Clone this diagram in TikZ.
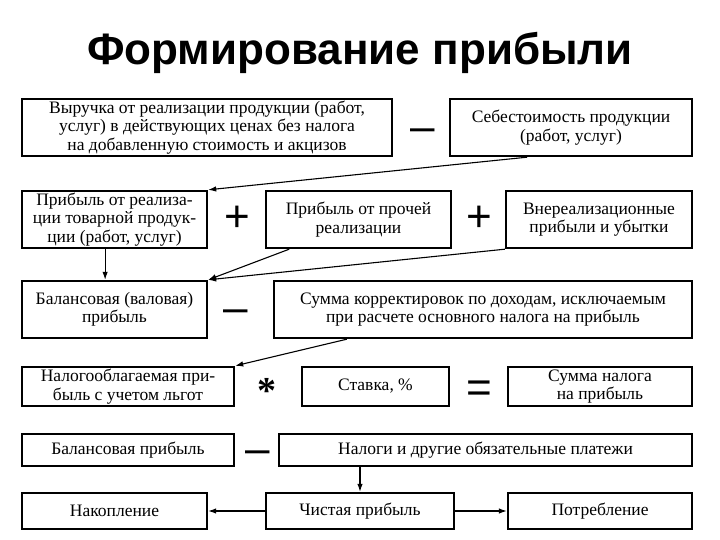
\documentclass[tikz,border=0pt]{standalone}
\usepackage{fontspec}
\usepackage{tikz}
\usetikzlibrary{arrows.meta,calc}
\setmainfont{Liberation Serif}
\newfontfamily\titlefont{Liberation Sans}
\newfontfamily\opfont{Liberation Sans}
\newfontfamily\starfont{Liberation Serif}
\tikzset{
	box/.style={draw, line width=2.4pt, align=center, inner sep=0pt,
		font=\fontsize{17.5}{18.5}\selectfont},
	op/.style={inner sep=0pt, text height=30.8pt, text depth=0pt,
		font=\fontsize{44}{44}\selectfont\opfont},
	minussign/.style={op, text height=24.6pt},
	conn/.style={-{Latex[length=8pt,width=5.5pt]}, line width=1.1pt}
}
\begin{document}
\begin{tikzpicture}[x=1pt,y=-1pt]
		\useasboundingbox[fill=white] (0,0) rectangle (720,540);
		% Title
		\node (title) at (360,53) {\titlefont\bfseries\fontsize{44}{44}\selectfont Формирование прибыли};
		% Draw boxes
		\node[box, minimum width=370, minimum height=57] (revenue) at (207,127.5)
		{Выручка от реализации продукции (работ,\\ услуг) в действующих ценах без налога\\ на добавленную стоимость и акцизов};
		\node[box, minimum width=242, minimum height=57] (cost) at (571,127.5)
		{Себестоимость продукции\\ (работ, услуг)};
		\node[box, minimum width=185, minimum height=57] (salesprofit) at (114.5,219.5)
		{Прибыль от реализа-\\ции товарной продук-\\ции (работ, услуг)};
		\node[box, minimum width=185, minimum height=57] (otherprofit) at (358.5,219.5)
		{Прибыль от прочей\\ реализации};
		\node[box, minimum width=186, minimum height=57] (nonsales) at (599,219.5)
		{Внереализационные\\ прибыли и убытки};
		\node[box, minimum width=185, minimum height=57] (gross) at (114.5,309.5)
		{Балансовая (валовая)\\ прибыль};
		\node[box, minimum width=418, minimum height=57] (adjust) at (483,309.5)
		{Сумма корректировок по доходам, исключаемым\\ при расчете основного налога на прибыль};
		\node[box, minimum width=212, minimum height=39] (taxable) at (128,386.5)
		{Налогооблагаемая при-\\быль с учетом льгот};
		\node[box, minimum width=147, minimum height=39] (rate) at (375.5,386.5)
		{Ставка, \%};
		\node[box, minimum width=184, minimum height=39] (taxsum) at (600,386.5)
		{Сумма налога\\ на прибыль};
		\node[box, minimum width=212, minimum height=32] (balance) at (128,450)
		{Балансовая прибыль};
		\node[box, minimum width=413, minimum height=32] (taxes) at (485.5,450)
		{Налоги и другие обязательные платежи};
		\node[box, minimum width=185, minimum height=36] (accum) at (114.5,511)
		{Накопление};
		\node[box, minimum width=188, minimum height=36] (net) at (360,511)
		{Чистая прибыль};
		\node[box, minimum width=184, minimum height=36] (consum) at (600,511)
		{Потребление};
		% Draw operators
		\node[minussign] (minusa) at (423,129) {–};
		\node[op] (plusa) at (237,216) {+};
		\node[op] (plusb) at (479,216) {+};
		\node[minussign] (minusb) at (236,310) {–};
		\node[inner sep=0pt, text height=37pt, text depth=0pt,
			font=\fontsize{38}{38}\selectfont\starfont\bfseries] (times) at (267,385) {*};
		\node[op] (equals) at (479,387.5) {=};
		\node[minussign] (minusc) at (258,451) {–};
		% Draw arrows
		\draw[conn] ($(cost.south west)!0.32!(cost.south east)$) -- (salesprofit.north east);
		\draw[conn] ($(salesprofit.south west)!0.45!(salesprofit.south east)$)
		-- ($(gross.north west)!0.45!(gross.north east)$);
		\draw[conn] ($(otherprofit.south west)!0.13!(otherprofit.south east)$) -- (gross.north east);
		\draw[conn] (nonsales.south west) -- (gross.north east);
		\draw[conn] ($(adjust.south west)!0.176!(adjust.south east)$) -- (taxable.north east);
		\draw[conn] (net.north |- taxes.south) -- (net.north);
		\draw[conn] (net.west) -- (accum.east);
		\draw[conn] (net.east) -- (consum.west);
\end{tikzpicture}
\end{document}
